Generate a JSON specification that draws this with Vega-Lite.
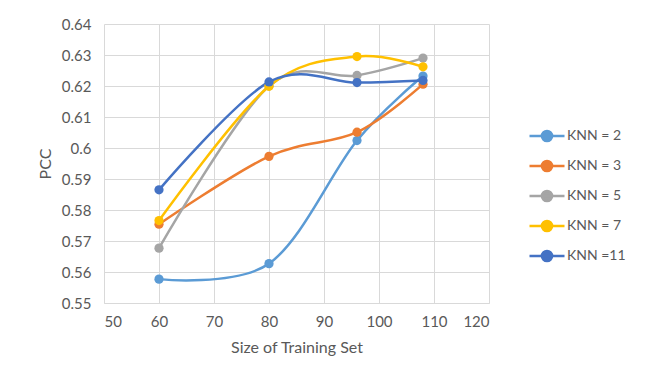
{
  "$schema": "https://vega.github.io/schema/vega-lite/v6.json",
  "autosize": "none",
  "width": 385,
  "height": 279,
  "padding": {"left": 104, "top": 24, "right": 160, "bottom": 76},
  "background": "white",
  "config": {
    "view": {"stroke": null},
    "font": "Lato",
    "axis": {"labelColor": "#595959", "titleColor": "#595959", "labelFont": "Lato", "titleFont": "Lato", "labelFontSize": 15, "titleFontSize": 16, "titleFontWeight": "normal", "gridColor": "#D9D9D9", "gridWidth": 1, "ticks": false}
  },
  "data": {
    "values": [
      {"size": 60, "pcc": 0.5577, "k": "KNN = 2"},
      {"size": 80, "pcc": 0.5627, "k": "KNN = 2"},
      {"size": 96, "pcc": 0.6024, "k": "KNN = 2"},
      {"size": 108, "pcc": 0.6232, "k": "KNN = 2"},
      {"size": 60, "pcc": 0.5754, "k": "KNN = 3"},
      {"size": 80, "pcc": 0.5973, "k": "KNN = 3"},
      {"size": 96, "pcc": 0.6051, "k": "KNN = 3"},
      {"size": 108, "pcc": 0.6206, "k": "KNN = 3"},
      {"size": 60, "pcc": 0.5677, "k": "KNN = 5"},
      {"size": 80, "pcc": 0.6200, "k": "KNN = 5"},
      {"size": 96, "pcc": 0.6234, "k": "KNN = 5"},
      {"size": 108, "pcc": 0.6290, "k": "KNN = 5"},
      {"size": 60, "pcc": 0.5766, "k": "KNN = 7"},
      {"size": 80, "pcc": 0.6199, "k": "KNN = 7"},
      {"size": 96, "pcc": 0.6295, "k": "KNN = 7"},
      {"size": 108, "pcc": 0.6262, "k": "KNN = 7"},
      {"size": 60, "pcc": 0.5865, "k": "KNN =11"},
      {"size": 80, "pcc": 0.6213, "k": "KNN =11"},
      {"size": 96, "pcc": 0.6211, "k": "KNN =11"},
      {"size": 108, "pcc": 0.6218, "k": "KNN =11"}
    ]
  },
  "encoding": {
    "x": {"field": "size", "type": "quantitative", "scale": {"domain": [50, 120], "nice": false, "zero": false},
      "axis": {"title": "Size of Training Set", "values": [50, 60, 70, 80, 90, 100, 110, 120], "labelPadding": 11, "titlePadding": 10, "domainColor": "#D9D9D9", "domainWidth": 1}},
    "y": {"field": "pcc", "type": "quantitative", "scale": {"domain": [0.55, 0.64], "nice": false, "zero": false},
      "axis": {"title": "PCC", "values": [0.55, 0.56, 0.57, 0.58, 0.59, 0.6, 0.61, 0.62, 0.63, 0.64], "labelExpr": "format(datum.value, '.2~f')", "labelPadding": 13, "titlePadding": 8, "domain": false}},
    "color": {"field": "k", "type": "nominal",
      "sort": ["KNN = 2", "KNN = 3", "KNN = 5", "KNN = 7", "KNN =11"],
      "scale": {"domain": ["KNN = 2", "KNN = 3", "KNN = 5", "KNN = 7", "KNN =11"], "range": ["#5B9BD5", "#ED7D31", "#A5A5A5", "#FFC000", "#4472C4"]},
      "legend": {"title": null, "orient": "none", "legendX": 424, "legendY": 93,
        "symbolType": "M-1,0H1M0.29,0A0.29,0.29 0 1,1 -0.29,0A0.29,0.29 0 1,1 0.29,0Z",
        "symbolSize": 1225, "symbolStrokeWidth": 2.5, "labelFontSize": 14, "labelColor": "#595959", "labelFont": "Lato", "labelOffset": 1, "rowPadding": -2,
        "encode": {"symbols": {"update": {"stroke": {"scale": "color", "field": "value"}, "fill": {"scale": "color", "field": "value"}, "strokeWidth": {"value": 2.5}, "opacity": {"value": 1}}}}}
    }
  },
  "layer": [
    {"mark": {"type": "line", "interpolate": "cardinal", "strokeWidth": 2.5}},
    {"mark": {"type": "point", "filled": true, "size": 85, "opacity": 1}}
  ]
}
